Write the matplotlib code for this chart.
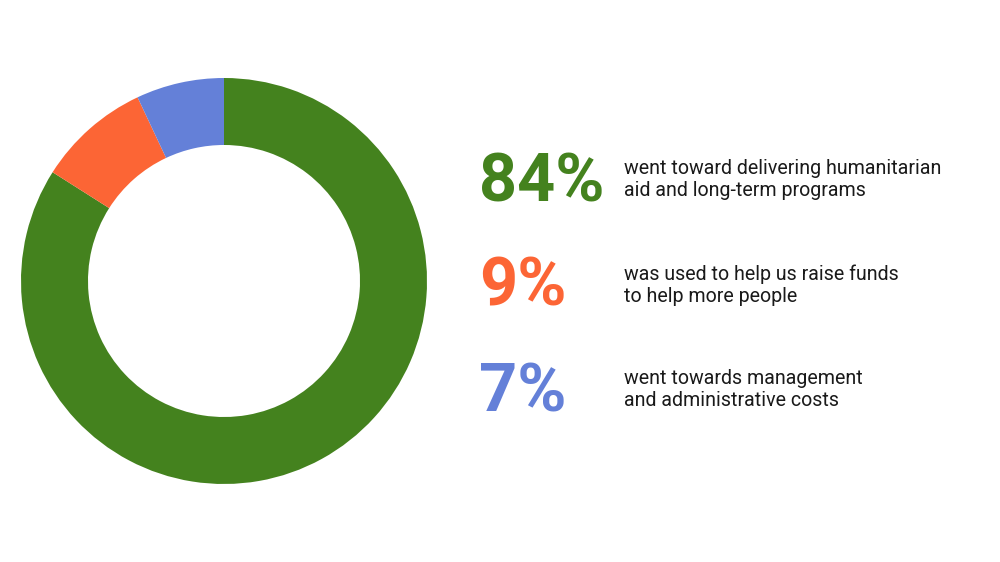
import matplotlib.pyplot as plt

# data
shares = [84, 9, 7]
share_labels = ["84%", "9%", "7%"]
descriptions = [
    "went toward delivering humanitarian\naid and long-term programs",
    "was used to help us raise funds\nto help more people",
    "went towards management\nand administrative costs",
]
colors = ["#44821E", "#FC6535", "#6480D8"]

fig = plt.figure(figsize=(10, 5.62), dpi=100)

# donut
ax = fig.add_axes([21 / 1000, 78 / 562, 406 / 1000, 406 / 562])
ax.pie(shares, colors=colors, startangle=90, counterclock=False,
       radius=1, wedgeprops=dict(width=0.33, linewidth=0))
ax.set_xlim(-1, 1)
ax.set_ylim(-1, 1)
ax.set_aspect("equal")
ax.axis("off")

# legend text block
baselines = [201, 305, 411]
desc_y = [179, 285, 390]
for lab, desc, col, b, dy in zip(share_labels, descriptions, colors, baselines, desc_y):
    fig.text(0.479, 1 - b / 562, lab, color=col, fontsize=48, fontweight="bold",
             family="Roboto", va="baseline", ha="left")
    fig.text(0.624, 1 - dy / 562, desc, color="#1a1a1a", fontsize=14.1,
             family="Roboto", va="center", ha="left", linespacing=1.2)

plt.savefig("out.png", dpi=100)
